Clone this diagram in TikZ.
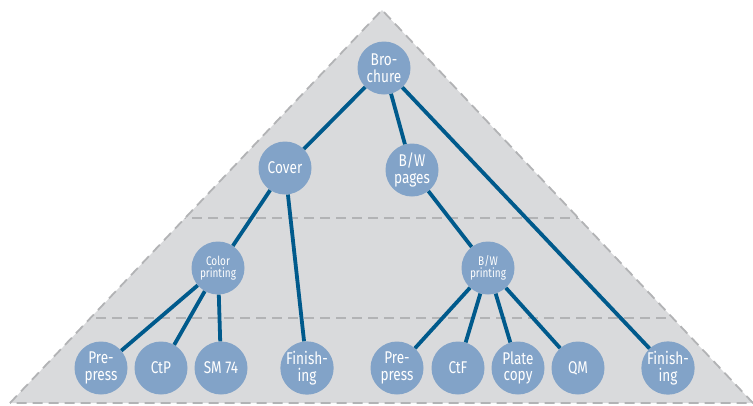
\documentclass[tikz,border=0pt]{standalone}
\usepackage{fontspec}
\setmainfont[FakeStretch=0.8]{Fira Sans}
\definecolor{trifill}{HTML}{D9DADC}
\definecolor{nodefill}{HTML}{82A3C8}
\definecolor{edgecol}{HTML}{005A8C}
\definecolor{guidecol}{HTML}{B2B3B5}
\begin{document}
\begin{tikzpicture}[x=1pt,y=-1pt,
  tnode/.style={circle,fill=nodefill,minimum size=53pt,inner sep=0pt,text=white,align=center,font=\fontsize{17}{16.5}\selectfont},
  snode/.style={tnode,font=\fontsize{12.5}{12.5}\selectfont},
  link/.style={draw=edgecol,line width=3.8pt},
  guide/.style={draw=guidecol,line width=1.8pt,dash pattern=on 10pt off 6pt}]
\useasboundingbox (0,0) rectangle (753,405);
\coordinate (apex) at (382,10);
\coordinate (bl) at (10,403);
\coordinate (br) at (753,403);
\fill[trifill] (bl) -- (apex) -- (br) -- cycle;
\begin{scope}
  \clip (bl) -- (apex) -- (br) -- cycle;
  \draw[guide] (0,218) -- (753,218);
  \draw[guide] (0,318) -- (753,318);
\end{scope}
\draw[guide] (bl) -- (apex) -- (br) -- cycle;

\node[tnode] (bro) at (384,68) {Bro-\\chure};
\node[tnode] (cover) at (285,168) {Cover};
\node[tnode] (bwp) at (412,170) {B/W\\pages};
\node[snode] (colp) at (218,268) {Color\\printing};
\node[snode] (bwpr) at (488,268) {B/W\\printing};
\node[tnode] (pp1) at (101,368) {Pre-\\press};
\node[tnode] (ctp) at (161,368) {CtP};
\node[tnode] (sm) at (221,368) {SM 74};
\node[tnode] (fin1) at (307,368) {Finish-\\ing};
\node[tnode] (pp2) at (397,368) {Pre-\\press};
\node[tnode] (ctf) at (458,368) {CtF};
\node[tnode] (plate) at (518,368) {Plate\\copy};
\node[tnode] (qm) at (578,368) {QM};
\node[tnode] (fin2) at (668,368) {Finish-\\ing};

\draw[link] (bro) -- (cover);
\draw[link] (bro) -- (bwp);
\draw[link] (bro) -- (fin2);
\draw[link] (cover) -- (colp);
\draw[link] (cover) -- (fin1);
\draw[link] (bwp) -- (bwpr);
\draw[link] (colp) -- (pp1);
\draw[link] (colp) -- (ctp);
\draw[link] (colp) -- (sm);
\draw[link] (bwpr) -- (pp2);
\draw[link] (bwpr) -- (ctf);
\draw[link] (bwpr) -- (plate);
\draw[link] (bwpr) -- (qm);
\end{tikzpicture}
\end{document}
